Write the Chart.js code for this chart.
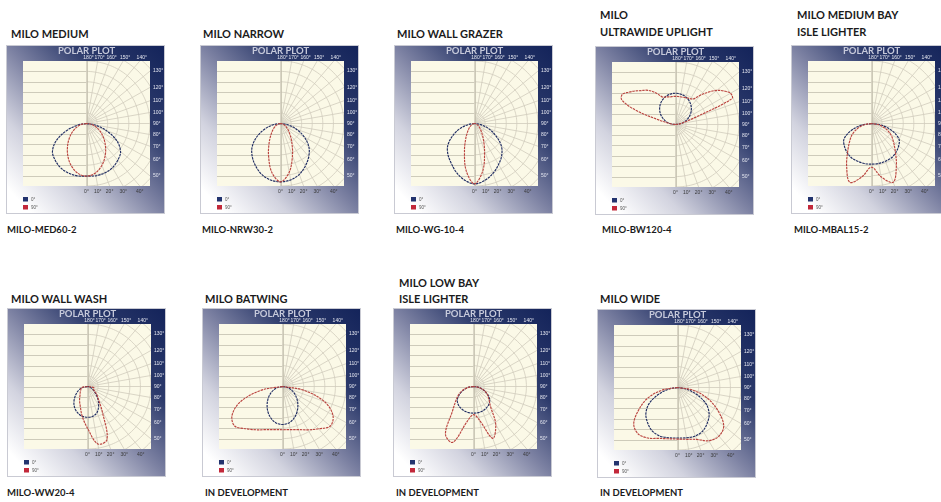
<!DOCTYPE html>
<html><head><meta charset="utf-8">
<script src="https://cdn.jsdelivr.net/npm/chart.js@4.4.1/dist/chart.umd.min.js"></script>
<style>
html,body{margin:0;padding:0;background:#fff;width:941px;height:502px;overflow:hidden;position:relative;font-family:Lato,"Open Sans",sans-serif;}
.panel{position:absolute;width:159px;height:169px;box-shadow:inset 0 0 0 1px #c9cad3;background:linear-gradient(to bottom left,#13235a 0%,#2c3a6b 28%,#7d82a3 50%,#d2d3df 72%,#ffffff 92%);}
.panel canvas{position:absolute;left:0;top:0;}
.title{position:absolute;font:700 11px Lato,sans-serif;color:#1b1b1b;line-height:13px;white-space:nowrap;}
.code{position:absolute;font:700 9.5px Lato,sans-serif;color:#1b1b1b;line-height:12px;white-space:nowrap;}
</style></head>
<body>
<script>
// ---------- data (polar intensity, angle measured from nadir, + = right side) ----------
const ANG_DOWN = [-90,-80,-70,-60,-50,-40,-30,-20,-10,0,10,20,30,40,50,60,70,80,90];
const ANG_UP = [90,95,100,105,110,115,120,125,130,135,140,145,150,155,160,165,170,175,180,185,190,195,200,205,210,215,220,225,230,235,240,245,250,255,260,265,270];

const MEDIUM_0DEG  = [0,0.8,2.0,3.3,4.2,4.6,4.9,5.05,5.1,5.05,5.1,5.05,4.9,4.6,4.2,3.3,2.0,0.8,0];
const MEDIUM_90DEG = [0,0.46,0.94,1.48,2.09,2.78,3.54,4.27,4.83,5.05,4.83,4.27,3.54,2.78,2.09,1.48,0.94,0.46,0];
const NARROW_0DEG  = [0,0.7,1.6,2.6,3.5,4.15,4.7,5.2,5.5,5.6,5.5,5.2,4.7,4.15,3.5,2.6,1.6,0.7,0];
const NARROW_90DEG = [0,0.17,0.36,0.6,0.93,1.4,2.15,3.3,4.75,5.6,4.75,3.3,2.15,1.4,0.93,0.6,0.36,0.17,0];
const GRAZER_0DEG  = [0,0.6,1.5,2.4,3.3,3.9,4.4,5.0,5.5,5.8,5.55,5.1,4.55,4.0,3.3,2.3,1.4,0.6,0];
const GRAZER_90DEG = [0,0.11,0.24,0.4,0.64,1.0,1.64,2.77,4.57,5.8,4.57,2.77,1.64,1.0,0.64,0.4,0.24,0.11,0];
const UPLIGHT_0DEG  = [0,0.26,0.52,0.78,1.03,1.27,1.5,1.72,1.93,2.12,2.3,2.46,2.6,2.72,2.82,2.9,2.95,2.99,3.0,2.99,2.95,2.9,2.82,2.72,2.6,2.46,2.3,2.12,1.93,1.72,1.5,1.27,1.03,0.78,0.52,0.26,0];
const UPLIGHT_90DEG = [0,0.25,0.5,0.9,2.0,5.9,6.0,5.6,5.1,4.4,3.7,3.0,2.85,2.8,2.75,2.7,2.7,2.7,2.7,2.7,2.7,2.75,2.8,2.9,3.4,3.9,4.3,4.6,5.0,5.4,5.8,5.6,4.0,1.5,0.6,0.25,0];
const MEDBAY_0DEG  = [0,1.0,2.1,3.0,3.35,3.6,3.8,3.85,3.9,3.9,3.9,3.85,3.8,3.6,3.35,3.0,2.1,1.0,0];
const MEDBAY_90DEG = [0,0.7,1.4,2.1,2.7,3.5,4.7,6.0,5.2,4.2,5.2,6.0,4.7,3.5,2.7,2.1,1.4,0.7,0];
const WASH_0DEG  = [0,0.4,0.8,1.15,1.55,2.0,2.4,2.7,2.9,2.95,2.9,2.65,2.1,1.5,0.95,0.6,0.35,0.15,0];
const WASH_90DEG = [0,0.55,0.65,0.75,0.9,1.1,1.5,2.0,2.9,4.0,5.6,5.4,2.8,1.6,1.1,0.7,0.6,0.6,0];
const BATWING_0DEG  = [0,0.41,0.83,1.28,1.76,2.26,2.77,3.22,3.55,3.65,3.55,3.22,2.77,2.26,1.76,1.28,0.83,0.41,0];
const BATWING_90DEG = [0,2.0,4.2,5.5,5.9,5.3,4.8,4.4,4.2,4.15,4.2,4.4,4.8,5.3,5.9,5.5,4.2,2.0,0];
const LOWBAY_0DEG  = [0,0.5,1.0,1.55,2.0,2.25,2.4,2.5,2.55,2.55,2.55,2.5,2.4,2.25,2.0,1.55,1.0,0.5,0];
const LOWBAY_90DEG = [0,0.5,1.1,1.65,2.2,3.1,5.3,5.7,3.4,2.7,3.3,5.3,4.2,2.5,1.9,1.5,1.05,0.5,0];
const WIDE_0DEG  = [0,0.8,1.9,3.1,3.9,4.4,4.8,4.95,4.9,4.85,4.9,4.95,4.8,4.4,3.9,3.1,1.9,0.8,0];
const WIDE_90DEG = [0,1.5,3.0,4.2,5.4,5.8,5.6,5.2,5.0,4.95,5.05,5.3,5.9,6.1,5.7,4.4,3.0,1.5,0];

// grid / tick labels
const H_LINES = [-5,-4,-3,-2,-1,0,1,2,3,4,5];
const RADIAL_DEG = [0,10,20,30,40,50,60,70,80,90,100,110,120,130,140,150,160,170,180];
const ARC_RADII = [1,2,3,4,5,6,7,8,9];
const TOP_TICKS = [180,170,160,150,140];
const RIGHT_TICKS = [130,120,110,100,90,80,70,60,50];
const BOTTOM_TICKS = [0,10,20,30,40];
const LEGEND_LABELS = ['0°','90°'];
const HEADER = 'POLAR PLOT';

const BLUE = '#1f2c62', RED = '#bb4540';

const PANELS = [
  {left:6,   top:45,  ang:ANG_DOWN, c0:MEDIUM_0DEG,  c90:MEDIUM_90DEG},
  {left:200, top:45,  ang:ANG_DOWN, c0:NARROW_0DEG,  c90:NARROW_90DEG},
  {left:394, top:45,  ang:ANG_DOWN, c0:GRAZER_0DEG,  c90:GRAZER_90DEG},
  {left:595, top:46,  ang:ANG_UP,   c0:UPLIGHT_0DEG, c90:UPLIGHT_90DEG},
  {left:791, top:45,  ang:ANG_DOWN, c0:MEDBAY_0DEG,  c90:MEDBAY_90DEG},
  {left:7,   top:308, ang:ANG_DOWN, c0:WASH_0DEG,    c90:WASH_90DEG},
  {left:202, top:308, ang:ANG_DOWN, c0:BATWING_0DEG, c90:BATWING_90DEG},
  {left:393, top:308, ang:ANG_DOWN, c0:LOWBAY_0DEG,  c90:LOWBAY_90DEG},
  {left:597, top:309, ang:ANG_DOWN, c0:WIDE_0DEG,    c90:WIDE_90DEG}
];

const TITLES = [
  ['MILO MEDIUM',11,33],['MILO NARROW',203,33],['MILO WALL GRAZER',397,33],
  ['MILO',600,14],['ULTRAWIDE UPLIGHT',600,31],['MILO MEDIUM BAY',797,14],['ISLE LIGHTER',797,31],
  ['MILO WALL WASH',11,298],['MILO BATWING',205,298],['MILO LOW BAY',399,282],['ISLE LIGHTER',399,298],['MILO WIDE',600,298]
];
const CODES = [
  ['MILO-MED60-2',7,230],['MILO-NRW30-2',202,230],['MILO-WG-10-4',396,230],['MILO-BW120-4',602,230],['MILO-MBAL15-2',794,230],
  ['MILO-WW20-4',7,493],['IN DEVELOPMENT',205,493],['IN DEVELOPMENT',396,493],['IN DEVELOPMENT',600,493]
];

function toXY(ang, r){
  return ang.map((a,i)=>{const t=a*Math.PI/180; return {x:r[i]*Math.sin(t), y:-r[i]*Math.cos(t)};});
}
const rad = d => d*Math.PI/180;

const polarGrid = {
  id:'polarGrid',
  beforeDatasetsDraw(chart){
    const {ctx, chartArea:a, scales:{x,y}} = chart;
    const x0 = x.getPixelForValue(0), y0 = y.getPixelForValue(0);
    ctx.save();
    ctx.fillStyle = '#fbf9e7';
    ctx.fillRect(a.left,a.top,a.right-a.left,a.bottom-a.top);
    ctx.beginPath(); ctx.rect(a.left,a.top,a.right-a.left,a.bottom-a.top); ctx.clip();
    ctx.lineWidth = 0.8;
    ctx.strokeStyle = '#c3bfae';
    H_LINES.forEach(v=>{
      const py = Math.round(y.getPixelForValue(v))+0.5;
      ctx.beginPath(); ctx.moveTo(a.left,py); ctx.lineTo(x0,py); ctx.stroke();
    });
    ctx.strokeStyle = '#d0ccbc';
    RADIAL_DEG.forEach(d=>{
      const R = 20;
      ctx.beginPath(); ctx.moveTo(x0,y0);
      ctx.lineTo(x.getPixelForValue(R*Math.sin(rad(d))), y.getPixelForValue(-R*Math.cos(rad(d))));
      ctx.stroke();
    });
    ARC_RADII.forEach(r=>{
      ctx.beginPath();
      for(let d=0; d<=180; d+=2){
        const px = x.getPixelForValue(r*Math.sin(rad(d))), py = y.getPixelForValue(-r*Math.cos(rad(d)));
        if(d===0) ctx.moveTo(px,py); else ctx.lineTo(px,py);
      }
      ctx.stroke();
    });
    ctx.strokeStyle = '#c0bcab';
    const vx = Math.round(x0)+0.5;
    ctx.beginPath(); ctx.moveTo(vx,a.top); ctx.lineTo(vx,a.bottom); ctx.stroke();
    ctx.restore();
  },
  afterDraw(chart){
    const {ctx, chartArea:a, scales:{x,y}} = chart;
    const x0 = x.getPixelForValue(0);
    ctx.save();
    ctx.textBaseline = 'middle';
    ctx.textAlign = 'center';
    ctx.font = 'bold 9.5px Lato, sans-serif';
    ctx.fillStyle = '#c7cadb';
    ctx.fillText(HEADER, x0, a.top-10);
    ctx.font = '5px "Liberation Sans", sans-serif';
    ctx.fillStyle = '#e4e6f0';
    TOP_TICKS.forEach(d=>{
      const v = y.max*Math.tan(rad(180-d));
      ctx.fillText(d+'°', x.getPixelForValue(v)+2, a.top-3);
    });
    ctx.textAlign = 'left';
    RIGHT_TICKS.forEach(d=>{
      const v = x.max*Math.tan(rad(d-90));
      ctx.fillText(d+'°', a.right+3, y.getPixelForValue(v));
    });
    ctx.textAlign = 'center';
    ctx.fillStyle = '#3a3a3a';
    BOTTOM_TICKS.forEach(d=>{
      const v = -y.min*Math.tan(rad(d));
      ctx.fillText(d+'°', x.getPixelForValue(v), a.bottom+6);
    });
    // legend
    ctx.textAlign = 'left';
    ctx.font = '4.5px "Liberation Sans", sans-serif';
    const cols = ['#22336e','#c2283a'];
    LEGEND_LABELS.forEach((t,i)=>{
      const ly = a.bottom+11+i*8;
      ctx.fillStyle = cols[i]; ctx.fillRect(a.left, ly, 5, 4.5);
      ctx.fillStyle = '#555'; ctx.fillText(t, a.left+8, ly+2.3);
    });
    ctx.restore();
  }
};

PANELS.forEach(p=>{
  const div = document.createElement('div');
  div.className = 'panel';
  div.style.left = p.left+'px'; div.style.top = p.top+'px';
  const cv = document.createElement('canvas');
  cv.width = 159; cv.height = 169;
  div.appendChild(cv);
  document.body.appendChild(div);
  const ds = (data,col)=>({data, borderColor:col, borderWidth:1.15, borderDash:[2.5,0.8], showLine:true, pointRadius:0, tension:0.35, fill:false});
  new Chart(cv,{
    type:'scatter',
    data:{datasets:[ds(toXY(p.ang,p.c90),RED), ds(toXY(p.ang,p.c0),BLUE)]},
    options:{
      responsive:false, devicePixelRatio:1, animation:false,
      layout:{padding:{left:17,top:16,right:15,bottom:28}},
      plugins:{legend:{display:false}, tooltip:{enabled:false}},
      scales:{x:{type:'linear',min:-6,max:6,display:false}, y:{type:'linear',min:-6,max:6,display:false}}
    },
    plugins:[polarGrid]
  });
});

TITLES.forEach(([t,x,yc])=>{
  const d=document.createElement('div'); d.className='title'; d.textContent=t;
  d.style.left=x+'px'; d.style.top=(yc-6.5)+'px'; document.body.appendChild(d);
});
CODES.forEach(([t,x,yc])=>{
  const d=document.createElement('div'); d.className='code'; d.textContent=t;
  d.style.left=x+'px'; d.style.top=(yc-6)+'px'; document.body.appendChild(d);
});
</script>
</body></html>
